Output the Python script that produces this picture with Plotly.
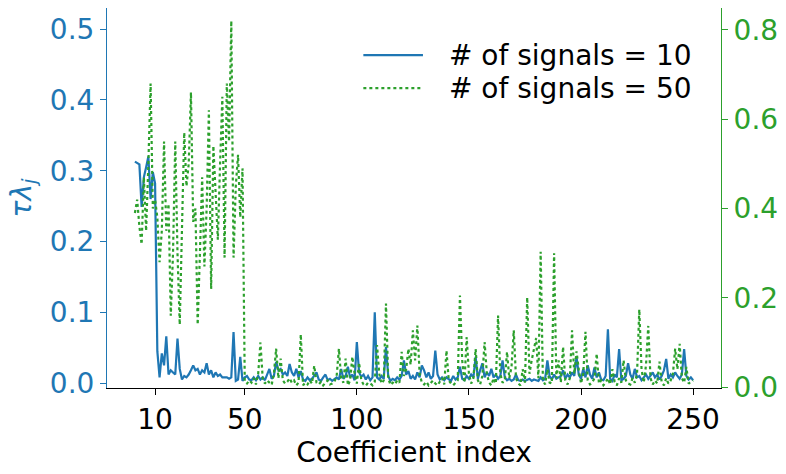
import plotly.graph_objects as go

# ---- data ----
coef_index = list(range(1, 251))

lam_signals_10 = [
    0.313, 0.311, 0.309, 0.249, 0.291, 0.305, 0.320, 0.260, 0.298, 0.282,
    0.045, 0.008, 0.042, 0.025, 0.066, 0.012, 0.018, 0.015, 0.012, 0.063,
    0.020, 0.005, 0.010, 0.008, 0.012, 0.018, 0.025, 0.018, 0.020, 0.012,
    0.018, 0.015, 0.028, 0.012, 0.018, 0.008, 0.015, 0.010, 0.012, 0.008,
    0.008, 0.008, 0.006, 0.008, 0.072, 0.003, 0.005, 0.037, 0.003, 0.008,
    0.010, 0.005, 0.004, 0.008, 0.004, 0.010, 0.005, 0.008, 0.004, 0.012,
    0.020, 0.006, 0.010, 0.030, 0.018, 0.020, 0.012, 0.015, 0.010, 0.027,
    0.015, 0.010, 0.020, 0.008, 0.017, 0.005, 0.003, 0.008, 0.004, 0.006,
    0.010, 0.015, 0.005, 0.003, 0.008, 0.012, 0.004, 0.006, 0.003, 0.005,
    0.008, 0.005, 0.020, 0.006, 0.010, 0.023, 0.008, 0.012, 0.004, 0.058,
    0.015, 0.009, 0.012, 0.005, 0.010, 0.004, 0.008, 0.100, 0.008, 0.005,
    0.010, 0.006, 0.051, 0.010, 0.003, 0.006, 0.004, 0.008, 0.005, 0.010,
    0.032, 0.012, 0.017, 0.006, 0.010, 0.005, 0.015, 0.008, 0.025, 0.018,
    0.008, 0.015, 0.006, 0.010, 0.046, 0.012, 0.005, 0.008, 0.004, 0.008,
    0.006, 0.003, 0.010, 0.005, 0.008, 0.023, 0.006, 0.004, 0.010, 0.006,
    0.012, 0.008, 0.037, 0.006, 0.018, 0.028, 0.008, 0.015, 0.010, 0.020,
    0.008, 0.012, 0.006, 0.010, 0.032, 0.008, 0.004, 0.006, 0.003, 0.005,
    0.012, 0.004, 0.003, 0.005, 0.003, 0.004, 0.006, 0.003, 0.005, 0.004,
    0.003, 0.008, 0.004, 0.006, 0.032, 0.010, 0.005, 0.012, 0.006, 0.008,
    0.010, 0.018, 0.006, 0.012, 0.008, 0.015, 0.010, 0.037, 0.012, 0.006,
    0.020, 0.008, 0.025, 0.012, 0.006, 0.022, 0.008, 0.015, 0.005, 0.004,
    0.010, 0.076, 0.006, 0.003, 0.012, 0.008, 0.048, 0.004, 0.006, 0.010,
    0.028, 0.012, 0.006, 0.020, 0.008, 0.010, 0.004, 0.008, 0.012, 0.006,
    0.010, 0.015, 0.008, 0.012, 0.005, 0.010, 0.018, 0.034, 0.006, 0.012,
    0.008, 0.015, 0.010, 0.006, 0.012, 0.048, 0.010, 0.005, 0.008, 0.004,
]

lam_signals_50 = [
    0.390, 0.420, 0.360, 0.320, 0.470, 0.350, 0.500, 0.680, 0.400, 0.420,
    0.380, 0.280, 0.350, 0.550, 0.350, 0.410, 0.160, 0.300, 0.550, 0.300,
    0.140, 0.350, 0.570, 0.450, 0.500, 0.660, 0.370, 0.400, 0.140, 0.300,
    0.470, 0.270, 0.400, 0.620, 0.220, 0.540, 0.430, 0.330, 0.500, 0.650,
    0.290, 0.680, 0.550, 0.820, 0.290, 0.450, 0.520, 0.380, 0.490, 0.012,
    0.008, 0.015, 0.010, 0.020, 0.006, 0.030, 0.100, 0.020, 0.008, 0.015,
    0.010, 0.005, 0.030, 0.086, 0.020, 0.064, 0.015, 0.008, 0.012, 0.020,
    0.010, 0.015, 0.004, 0.010, 0.118, 0.004, 0.010, 0.006, 0.015, 0.008,
    0.048, 0.010, 0.006, 0.012, 0.004, 0.010, 0.015, 0.006, 0.008, 0.012,
    0.025, 0.086, 0.020, 0.010, 0.064, 0.004, 0.015, 0.068, 0.030, 0.008,
    0.055, 0.015, 0.006, 0.003, 0.010, 0.008, 0.004, 0.012, 0.094, 0.030,
    0.008, 0.015, 0.187, 0.020, 0.005, 0.010, 0.006, 0.015, 0.010, 0.079,
    0.025, 0.040, 0.086, 0.050, 0.127, 0.060, 0.138, 0.030, 0.010, 0.006,
    0.012, 0.004, 0.010, 0.015, 0.008, 0.004, 0.012, 0.020, 0.006, 0.082,
    0.015, 0.008, 0.004, 0.010, 0.015, 0.205, 0.060, 0.010, 0.112, 0.030,
    0.008, 0.020, 0.085, 0.015, 0.006, 0.025, 0.101, 0.030, 0.010, 0.004,
    0.020, 0.008, 0.160, 0.030, 0.010, 0.015, 0.079, 0.020, 0.045, 0.127,
    0.020, 0.008, 0.004, 0.040, 0.010, 0.201, 0.030, 0.060, 0.090, 0.110,
    0.020, 0.303, 0.015, 0.006, 0.040, 0.010, 0.008, 0.300, 0.020, 0.060,
    0.010, 0.090, 0.015, 0.006, 0.020, 0.127, 0.030, 0.080, 0.040, 0.008,
    0.030, 0.124, 0.015, 0.006, 0.010, 0.020, 0.075, 0.008, 0.015, 0.004,
    0.010, 0.020, 0.006, 0.040, 0.012, 0.004, 0.020, 0.010, 0.060, 0.015,
    0.008, 0.006, 0.020, 0.010, 0.030, 0.174, 0.040, 0.010, 0.050, 0.137,
    0.020, 0.006, 0.015, 0.008, 0.057, 0.010, 0.004, 0.020, 0.008, 0.015,
    0.030, 0.086, 0.040, 0.097, 0.020, 0.010, 0.045, 0.008, 0.012, 0.015,
]

series_names = ["# of signals = 10", "# of signals = 50"]
x_tick_vals = [10, 50, 100, 150, 200, 250]
left_tick_vals = [0.0, 0.1, 0.2, 0.3, 0.4, 0.5]
right_tick_vals = [0.0, 0.2, 0.4, 0.6, 0.8]

BLUE = "#1f77b4"
GREEN = "#2ca02c"
FONT = "DejaVu Sans"

fig = go.Figure()
fig.add_trace(go.Scatter(
    x=coef_index, y=lam_signals_10, mode="lines", name=series_names[0],
    line=dict(color=BLUE, width=2.2), yaxis="y",
))
fig.add_trace(go.Scatter(
    x=coef_index, y=lam_signals_50, mode="lines", name=series_names[1],
    line=dict(color=GREEN, width=2.2, dash="dot"), yaxis="y2",
))

# legend drawn in paper coordinates (longer line samples, as in the reference)
legend_rows = [(series_names[0], BLUE, "solid", 0.876),
               (series_names[1], GREEN, "dot", 0.789)]
for name, color, dash, yy in legend_rows:
    fig.add_shape(type="line", xref="paper", yref="paper",
                  x0=0.4175, x1=0.5146, y0=yy, y1=yy,
                  line=dict(color=color, width=2.2, dash=dash))
    fig.add_annotation(xref="paper", yref="paper", x=0.553, y=yy,
                       xanchor="left", yanchor="middle", text=name,
                       showarrow=False,
                       font=dict(family=FONT, size=28, color="black"))

fig.update_layout(
    width=786, height=474,
    margin=dict(l=107, r=61, t=8, b=86),
    plot_bgcolor="white", paper_bgcolor="white",
    font=dict(family=FONT, size=28, color="black"),
    showlegend=False,
    xaxis=dict(
        range=[-11.45, 262.45], tickvals=x_tick_vals, ticks="outside", ticklen=6,
        tickcolor="black", showline=True, linecolor="black", linewidth=1,
        showgrid=False, zeroline=False,
        tickfont=dict(family=FONT, size=28, color="black"),
        title=dict(text="Coefficient index", standoff=4,
                   font=dict(family=FONT, size=28, color="black")),
    ),
    yaxis=dict(
        range=[-0.007, 0.530], tickvals=left_tick_vals, tickformat=".1f",
        ticks="outside", ticklen=6, tickcolor=BLUE,
        tickfont=dict(family=FONT, size=28, color=BLUE),
        showline=True, linecolor=BLUE, linewidth=1,
        showgrid=False, zeroline=False,
        title=dict(text="<i>τλ</i><sub><i>j</i></sub>", standoff=10,
                   font=dict(family=FONT, size=28, color=BLUE)),
    ),
    yaxis2=dict(
        overlaying="y", side="right",
        range=[-0.002, 0.849], tickvals=right_tick_vals, tickformat=".1f",
        ticks="outside", ticklen=6, tickcolor=GREEN,
        tickfont=dict(family=FONT, size=28, color=GREEN),
        showline=True, linecolor=GREEN, linewidth=1,
        showgrid=False, zeroline=False,
    ),
)

fig.write_html("out.html")
